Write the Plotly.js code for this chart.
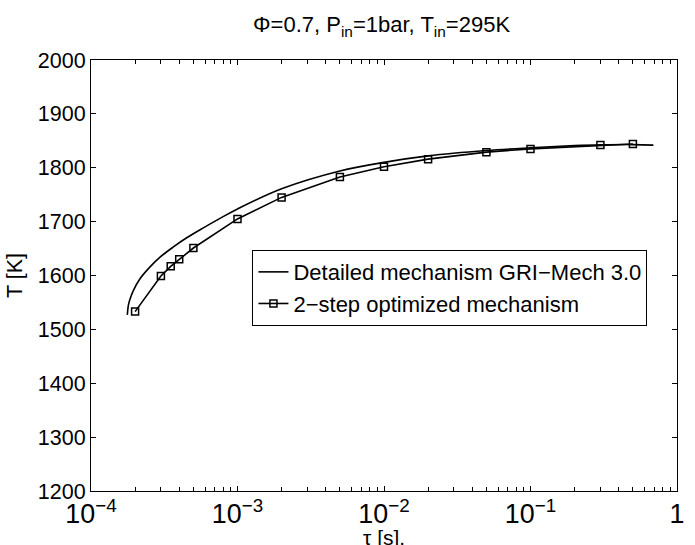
<!DOCTYPE html>
<html>
<head>
<meta charset="utf-8">
<script src="https://cdn.plot.ly/plotly-3.0.1.min.js"></script>
<style>html,body{margin:0;padding:0;background:#fff;}#chart{width:695px;height:545px;}</style>
</head>
<body>
<div id="chart"></div>
<script>
// Detailed mechanism GRI-Mech 3.0 (residence time [s], temperature [K])
const detailedTau = [1.77e-4, 1.80e-4, 1.845e-4, 1.945e-4, 2.16e-4, 2.53e-4, 2.96e-4, 3.65e-4, 4.5e-4, 5.85e-4, 7.6e-4, 1e-3, 2e-3, 5e-3, 1e-2, 2e-2, 5e-2, 1e-1, 2e-1, 3e-1, 5e-1, 6.9e-1];
const detailedT   = [1527, 1545, 1556, 1572, 1594, 1616, 1634, 1653, 1670, 1688.5, 1706, 1723.5, 1761, 1794, 1810, 1822, 1832, 1837, 1841, 1842.5, 1843, 1842];

// 2-step optimized mechanism
const optTau = [2e-4, 3e-4, 3.5e-4, 4e-4, 5e-4, 1e-3, 2e-3, 5e-3, 1e-2, 2e-2, 5e-2, 1e-1, 3e-1, 5e-1];
const optT   = [1533, 1599, 1617, 1630, 1651, 1705, 1745, 1783, 1802, 1816, 1829, 1835, 1842, 1844];

const seriesNames = ['Detailed mechanism GRI\u2212Mech 3.0', '2\u2212step optimized mechanism'];
const xTitle = '\u03C4 [s].';
const yTitle = 'T [K]';
const chartTitle = '\u03A6=0.7, P<sub>in</sub>=1bar, T<sub>in</sub>=295K';

const font = 'Liberation Sans, Arial, Helvetica, sans-serif';

const traces = [
  {
    x: detailedTau, y: detailedT, name: seriesNames[0],
    type: 'scatter', mode: 'lines',
    line: {color: '#000', width: 1.6, shape: 'spline', smoothing: 1}
  },
  {
    x: optTau, y: optT, name: seriesNames[1],
    type: 'scatter', mode: 'lines+markers',
    line: {color: '#000', width: 1.6},
    marker: {symbol: 'square-open', size: 7, color: '#000', line: {width: 1.5, color: '#000'}}
  }
];

const axisCommon = {
  showline: true, linecolor: '#000', linewidth: 1,
  mirror: 'ticks', ticks: 'inside', ticklen: 5, tickcolor: '#000', tickwidth: 1,
  showgrid: false, zeroline: false,
  tickfont: {family: font, size: 21.5, color: '#000'}
};

const layout = {
  width: 695, height: 545,
  paper_bgcolor: '#fff', plot_bgcolor: '#fff',
  margin: {l: 91, r: 18, t: 60, b: 54, pad: 0},
  font: {family: font, color: '#000', size: 21.5},
  title: {
    text: chartTitle,
    font: {family: font, size: 22, color: '#000'},
    x: 0.549, xanchor: 'center', y: 0.955, yanchor: 'middle'
  },
  xaxis: Object.assign({}, axisCommon, {
    type: 'log', range: [-4, 0], dtick: 1, exponentformat: 'power',
    minor: {ticks: 'inside', ticklen: 4, dtick: 'D1', tickcolor: '#000', showgrid: false}
  }),
  yaxis: Object.assign({}, axisCommon, {
    range: [1200, 2000], dtick: 100,
    title: {text: yTitle, font: {family: font, size: 21.5, color: '#000'}, standoff: 9}
  }),
  annotations: [{
    text: xTitle, xref: 'paper', yref: 'paper', x: 0.5, y: -0.08,
    xanchor: 'center', yanchor: 'top', showarrow: false, borderpad: 0,
    font: {family: font, size: 21, color: '#000'}
  }],
  legend: {
    x: 0.2755, y: 0.559, xanchor: 'left', yanchor: 'top',
    bgcolor: '#fff', bordercolor: '#000', borderwidth: 1,
    font: {family: font, size: 22, color: '#000'},
    tracegroupgap: 0
  },
  showlegend: true
};

Plotly.newPlot('chart', traces, layout, {displayModeBar: false, staticPlot: true});
</script>
</body>
</html>
